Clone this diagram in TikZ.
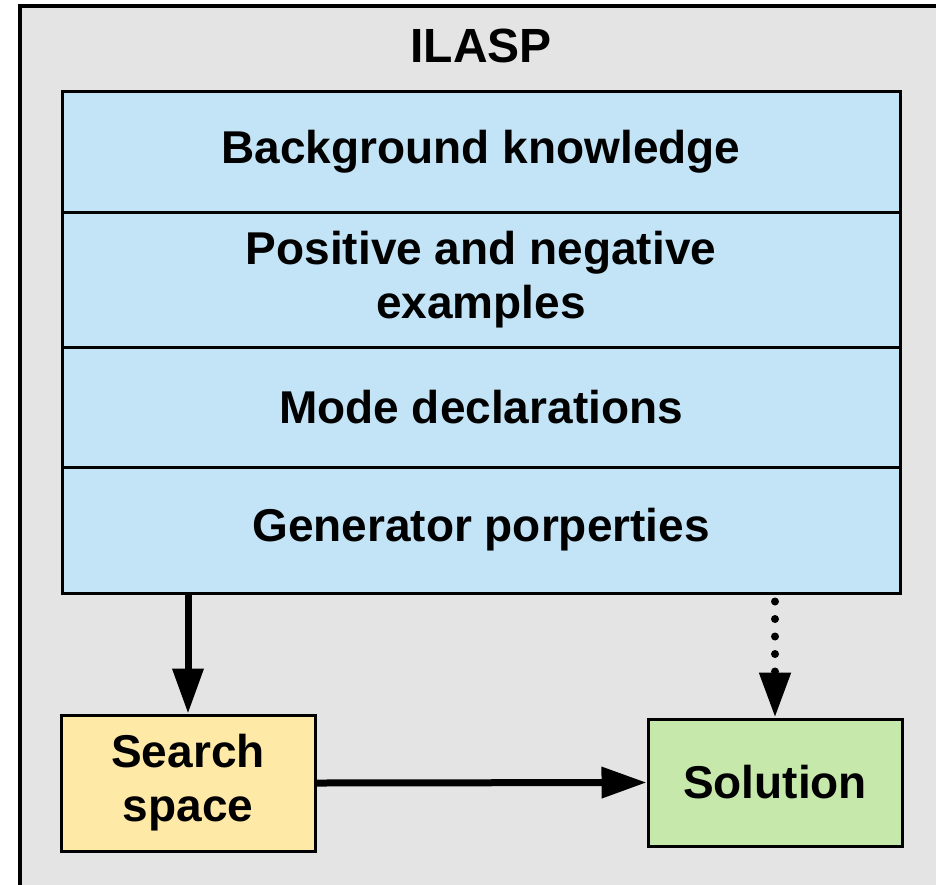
\documentclass[tikz,border=0pt]{standalone}
\usepackage{fontspec}
\setmainfont{Liberation Sans}
\usetikzlibrary{arrows.meta}
\definecolor{framegray}{HTML}{E4E4E4}
\definecolor{rowblue}{HTML}{C2E4F6}
\definecolor{spaceyellow}{HTML}{FFE9A6}
\definecolor{solgreen}{HTML}{C7E8AB}
\tikzset{
  lbl/.style={font=\fontsize{46}{54}\selectfont\bfseries, align=center, inner sep=0pt},
  row/.style={lbl, draw=black, line width=3pt, fill=rowblue, minimum width=838pt},
  outbox/.style={lbl, draw=black, line width=3pt, minimum width=254pt},
  flow/.style={line width=7pt, -{Triangle[length=45pt,width=30pt]}},
  dotflow/.style={line width=8pt, line cap=round, dash pattern=on 0pt off 17.5pt,
                  -{Triangle[length=45pt,width=30pt,line cap=butt,line join=miter]}}
}
\begin{document}
\begin{tikzpicture}[x=1pt,y=-1pt]
  \useasboundingbox (0,0) rectangle (936,884);
  \clip (0,0) rectangle (936,884);
  \fill[white] (0,0) rectangle (936,884);
  % enclosing ILASP frame (runs off the right and bottom edges)
  \draw[fill=framegray, line width=4pt] (20,6) rectangle (960,910);
  \node[lbl, font=\fontsize{48}{56}\selectfont\bfseries] (title) at (481,46) {ILASP};
  % input rows
  \node[row, minimum height=121pt] (bk)  at (481,151.5) {Background knowledge};
  \node[row, minimum height=135pt] (ex)  at (481,279.5) {Positive and negative\\examples};
  \node[row, minimum height=120pt] (md)  at (481,407)   {Mode declarations};
  \node[row, minimum height=126pt] (gen) at (481,530)   {Generator porperties};
  % outputs
  \node[outbox, fill=spaceyellow, minimum height=136pt] (search) at (188,783) {Search\\space};
  \node[outbox, fill=solgreen, minimum height=127pt] (sol) at (775,782.5) {Solution};
  % connectors
  \draw[flow] (search.north |- gen.south) -- (search.north);
  \draw[dotflow] ([yshift=-7pt]sol.north |- gen.south) -- (sol.north);
  \draw[flow] (search.east) -- (sol.west);
\end{tikzpicture}
\end{document}
